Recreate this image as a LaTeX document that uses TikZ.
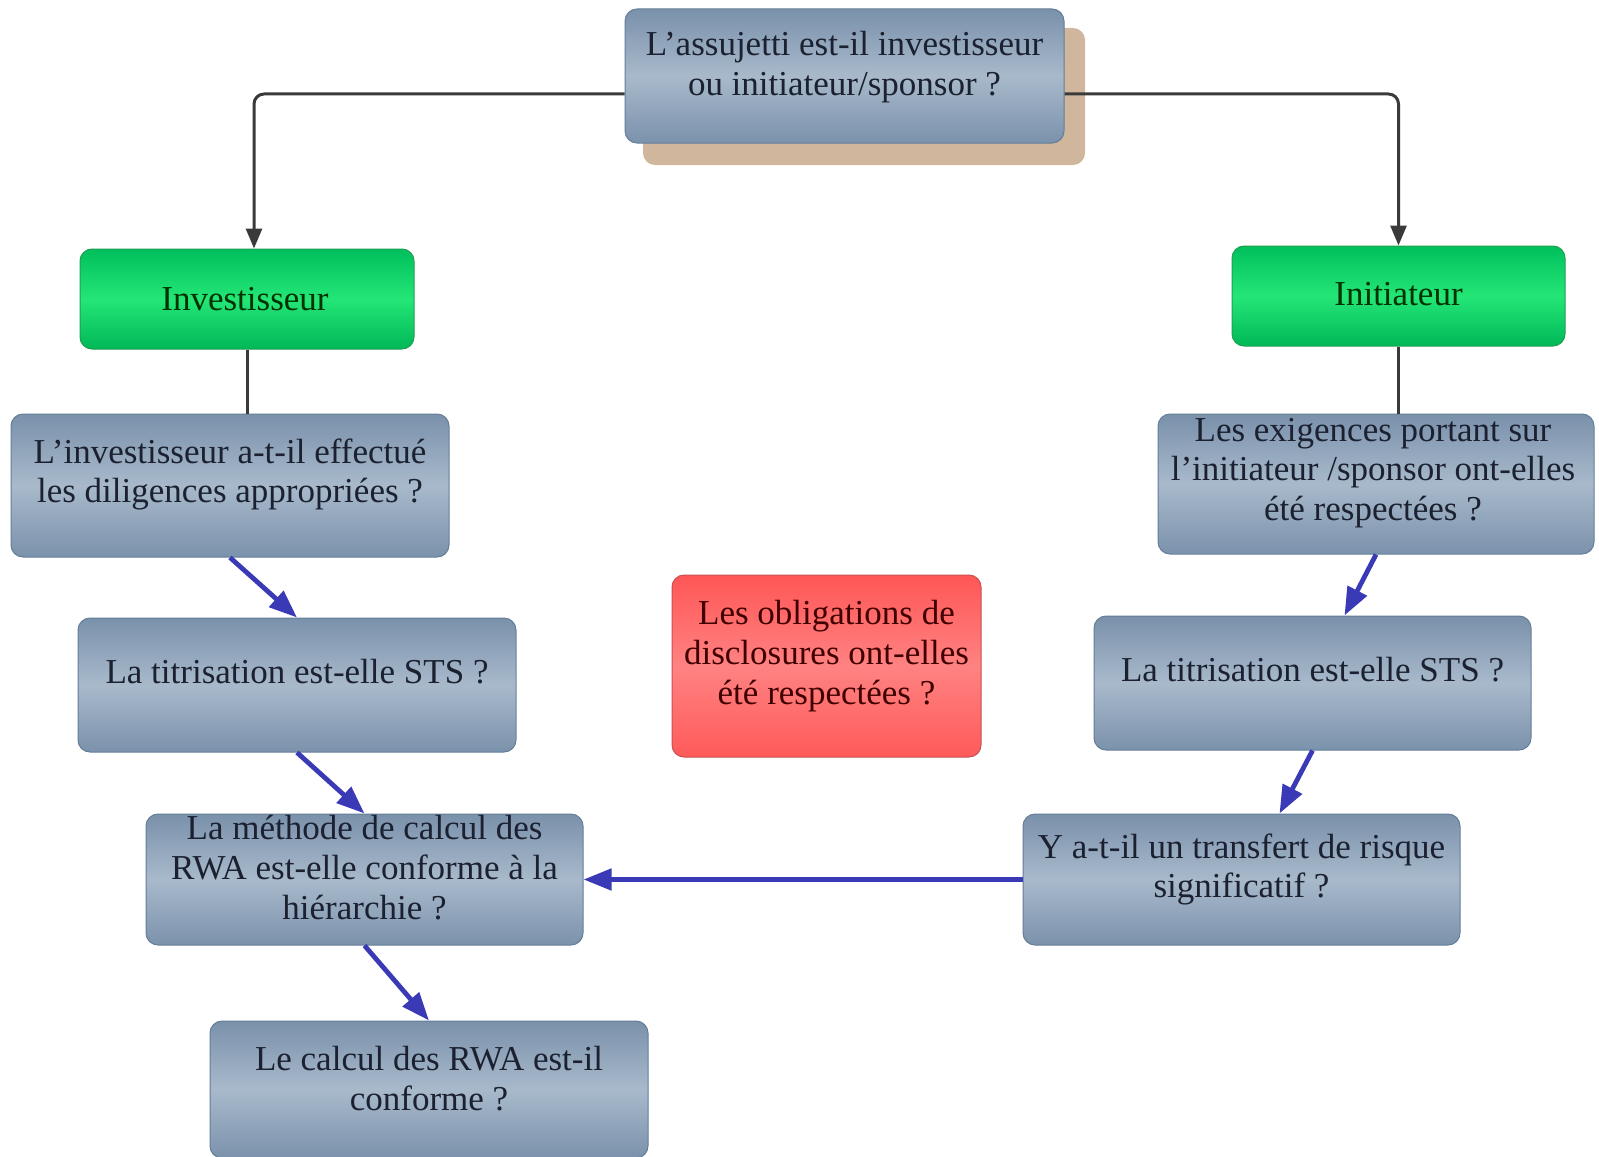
\documentclass[tikz,border=0pt]{standalone}
\usepackage{fontspec}
\setmainfont{Liberation Serif}
\usetikzlibrary{calc,arrows.meta,fit}
\definecolor{bxtop}{HTML}{7A91AB}
\definecolor{bxmid}{HTML}{A8B9CB}
\definecolor{bxbot}{HTML}{7B92AC}
\definecolor{bxline}{HTML}{647E98}
\definecolor{grtop}{HTML}{00BF5C}
\definecolor{grmid}{HTML}{24E676}
\definecolor{grbot}{HTML}{00B857}
\definecolor{grline}{HTML}{1FA050}
\definecolor{rdtop}{HTML}{FF5656}
\definecolor{rdmid}{HTML}{FF8282}
\definecolor{rdbot}{HTML}{FF5A5A}
\definecolor{rdline}{HTML}{C85050}
\definecolor{shad}{HTML}{CFB69C}
\definecolor{connc}{HTML}{3A3A3A}
\definecolor{blu}{HTML}{3A3AB6}
\definecolor{txtc}{HTML}{1B2130}
\tikzset{
  base/.style={rounded corners=6pt, inner sep=0pt, line width=0.5pt},
  bluebox/.style={base, draw=bxline, top color=bxtop, bottom color=bxbot, middle color=bxmid},
  greenbox/.style={base, draw=grline, top color=grtop, bottom color=grbot, middle color=grmid},
  redbox/.style={base, draw=rdline, top color=rdtop, bottom color=rdbot, middle color=rdmid},
  shadowbox/.style={base, fill=shad},
  txt/.style={align=center, text=txtc, font=\fontsize{17.5}{19.8}\selectfont, inner sep=0pt},
  gtxt/.style={txt, text=black!80!green},
  rtxt/.style={txt, text=black!75!red},
  conn/.style={draw=connc, line width=1.5pt, rounded corners=5pt},
  connarrow/.style={conn, -{Triangle[length=10pt,width=8pt]}},
  bluearrow/.style={draw=blu, line width=2.4pt, -{Triangle[length=14pt,width=10.5pt]}},
}
\begin{document}
\begin{tikzpicture}[x=0.5pt,y=-0.5pt]
\useasboundingbox (0,0) rectangle (1599,1156);
% shadow of top box
\node[shadowbox, fit={(643,28) (1085,165)}] (topsh) {};
% boxes
\node[bluebox, fit={(625,9) (1064,143)}] (top) {};
\node[greenbox, fit={(80,249) (414,349)}] (inv) {};
\node[greenbox, fit={(1232,246) (1565,346)}] (ini) {};
\node[bluebox, fit={(11,414) (449,557)}] (linv) {};
\node[bluebox, fit={(1158,414) (1594,554)}] (exig) {};
\node[bluebox, fit={(78,618) (516,752)}] (tit1) {};
\node[bluebox, fit={(1094,616) (1531,750)}] (tit2) {};
\node[redbox, fit={(672,575) (981,757)}] (disc) {};
\node[bluebox, fit={(146,814) (583,945)}] (meth) {};
\node[bluebox, fit={(1023,814) (1460,945)}] (risk) {};
\node[bluebox, fit={(210,1021) (648,1158)}] (calc) {};
% texts
\node[txt] (top-t) at ($(top.center)+(0,-9)$) {L’assujetti est-il investisseur\\ou initiateur/sponsor ?};
\node[gtxt] (inv-t) at ($(inv.center)+(-2,0)$) {Investisseur};
\node[gtxt] (ini-t) at ($(ini.center)+(0,-2)$) {Initiateur};
\node[txt] (linv-t) at ($(linv.center)+(0,-11)$) {L’investisseur a-t-il effectué\\les diligences appropriées ?};
\node[txt] (exig-t) at ($(exig.center)+(-3,-11)$) {Les exigences portant sur\\l’initiateur /sponsor ont-elles\\été respectées ?};
\node[txt] (tit1-t) at ($(tit1.center)+(0,-13)$) {La titrisation est-elle STS ?};
\node[txt] (tit2-t) at ($(tit2.center)+(0,-13)$) {La titrisation est-elle STS ?};
\node[rtxt] (disc-t) at ($(disc.center)+(0,-10)$) {Les obligations de\\disclosures ont-elles\\été respectées ?};
\node[txt] (meth-t) at ($(meth.center)+(0,-12)$) {La méthode de calcul des\\RWA est-elle conforme à la\\hiérarchie ?};
\node[txt] (risk-t) at ($(risk.center)+(0,-10)$) {Y a-t-il un transfert de risque\\significatif ?};
\node[txt] (calc-t) at ($(calc.center)+(0,-11)$) {Le calcul des RWA est-il\\conforme ?};
% dark connectors
\draw[connarrow] ($(top.west)+(0,18)$) -| ($(inv.north)+(7,0)$);
\draw[connarrow] ($(top.east)+(0,18)$) -| (ini.north);
\draw[conn] (inv.south) -- (inv.south |- linv.north);
\draw[conn] (ini.south) -- (ini.south |- exig.north);
% blue arrows
\draw[bluearrow] (linv.south) -- (tit1.north);
\draw[bluearrow] (tit1.south) -- (meth.north);
\draw[bluearrow] (meth.south) -- (calc.north);
\draw[bluearrow] (exig.south) -- ($(tit2.north)+(32,0)$);
\draw[bluearrow] (tit2.south) -- ($(risk.north)+(38,0)$);
\draw[bluearrow] (risk.west) -- (meth.east);
\end{tikzpicture}
\end{document}
